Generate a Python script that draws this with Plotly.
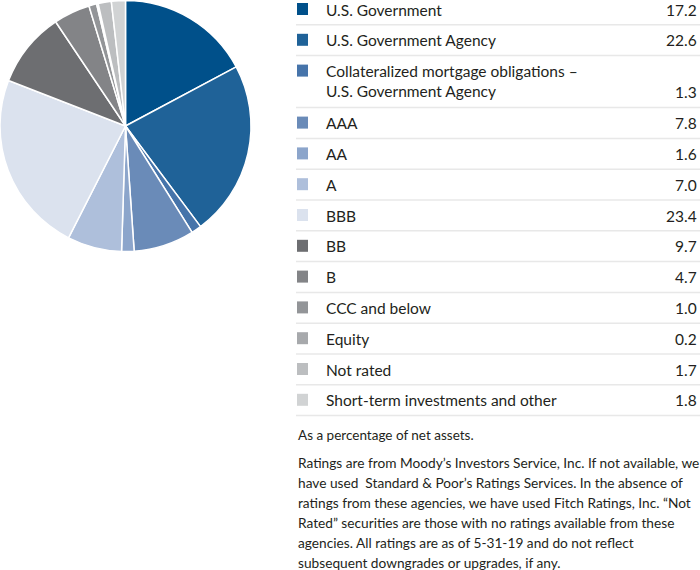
import plotly.graph_objects as go

categories = [
    "U.S. Government",
    "U.S. Government Agency",
    "Collateralized mortgage obligations –<br>U.S. Government Agency",
    "AAA", "AA", "A", "BBB", "BB", "B",
    "CCC and below", "Equity", "Not rated",
    "Short-term investments and other",
]
values = [17.2, 22.6, 1.3, 7.8, 1.6, 7.0, 23.4, 9.7, 4.7, 1.0, 0.2, 1.7, 1.8]
value_labels = ["17.2", "22.6", "1.3", "7.8", "1.6", "7.0", "23.4", "9.7", "4.7", "1.0", "0.2", "1.7", "1.8"]
colors = ["#00508a", "#1f6298", "#4674aa", "#6a8bb8", "#8ca5cb", "#aebfdb",
          "#dbe2ee", "#6d6e71", "#838487", "#939598", "#a7a9ac", "#bcbec0", "#d1d3d4"]

note1 = "As a percentage of net assets."
note2_lines = [
    "Ratings are from Moody’s Investors Service, Inc. If not available, we",
    "have used  Standard &amp; Poor’s Ratings Services. In the absence of",
    "ratings from these agencies, we have used Fitch Ratings, Inc. “Not",
    "Rated” securities are those with no ratings available from these",
    "agencies. All ratings are as of 5-31-19 and do not reflect",
    "subsequent downgrades or upgrades, if any.",
]

W, H = 700, 570
FONT = "Lato"
TXT = "#231f20"

fig = go.Figure()
fig.add_trace(go.Pie(
    labels=[c.replace("<br>", " ") for c in categories],
    values=values,
    sort=False,
    direction="clockwise",
    rotation=0,
    marker=dict(colors=colors, line=dict(color="white", width=1.5)),
    textinfo="none",
    showlegend=False,
    domain=dict(x=[0, 251 / W], y=[1 - 252 / H, 1]),
))

def px(x):
    return x / W

def py(y):
    return 1 - y / H

shapes = []
annotations = []
row_tops = []
y = 0
for c in categories:
    row_tops.append(y)
    nlines = c.count("<br>") + 1
    y += 30.8 if nlines == 1 else 52
for i, (c, v, col) in enumerate(zip(categories, value_labels, colors)):
    top = row_tops[i]
    nlines = c.count("<br>") + 1
    h = 30.8 if nlines == 1 else 52
    shapes.append(dict(type="rect", xref="paper", yref="paper",
                       x0=px(297), x1=px(308), y0=py(top + 3), y1=py(top + 15),
                       fillcolor=col, line=dict(width=0)))
    shapes.append(dict(type="line", xref="paper", yref="paper",
                       x0=px(296), x1=px(700), y0=py(top + h - 6), y1=py(top + h - 6),
                       line=dict(color="#e8e8e8", width=1.5)))
    annotations.append(dict(text=c, xref="paper", yref="paper",
                            x=px(324), y=py(top - 1.5), xanchor="left", yanchor="top",
                            showarrow=False, align="left",
                            font=dict(family=FONT, size=15.5, color=TXT)))
    annotations.append(dict(text=v, xref="paper", yref="paper",
                            x=px(699), y=py(top + (h - 30.8) - 1.5), xanchor="right", yanchor="top",
                            showarrow=False, align="right",
                            font=dict(family=FONT, size=15.5, color=TXT)))

annotations.append(dict(text=note1, xref="paper", yref="paper",
                        x=px(296), y=py(425), xanchor="left", yanchor="top",
                        showarrow=False, align="left",
                        font=dict(family=FONT, size=13.5, color=TXT)))
for j, line in enumerate(note2_lines):
    annotations.append(dict(text=line, xref="paper", yref="paper",
                            x=px(296), y=py(452 + 20 * j), xanchor="left", yanchor="top",
                            showarrow=False, align="left",
                            font=dict(family=FONT, size=13.7, color=TXT)))

fig.update_layout(
    width=W, height=H,
    margin=dict(l=0, r=0, t=0, b=0),
    paper_bgcolor="white", plot_bgcolor="white",
    shapes=shapes, annotations=annotations,
)

fig.write_html("out.html",
               config={"displayModeBar": False},
               post_script="document.body.style.margin='0';document.body.style.overflow='hidden';")
